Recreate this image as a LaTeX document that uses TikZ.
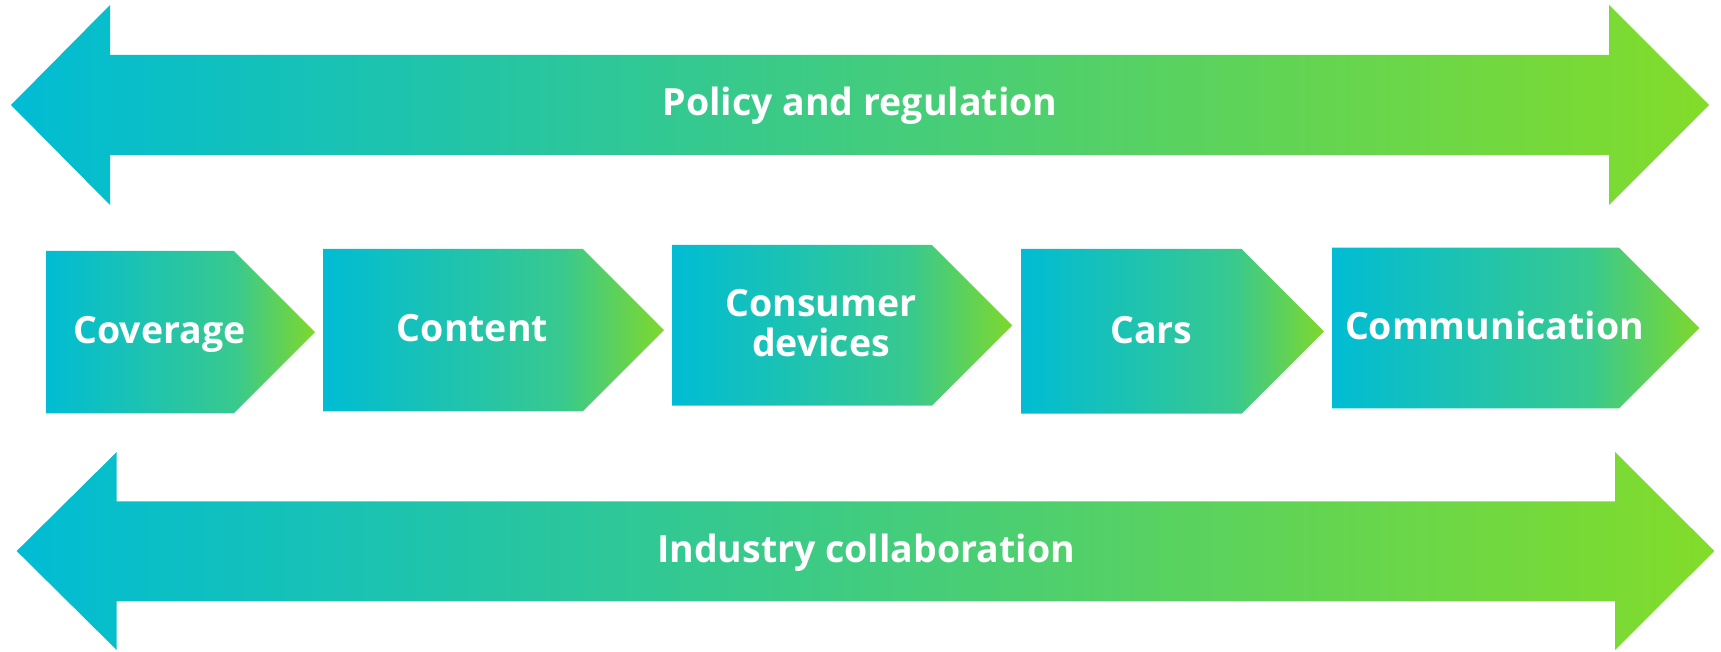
\documentclass[tikz,border=0pt]{standalone}
\usepackage{fontspec}
\setmainfont{Open Sans}[BoldFont={* Bold}]
\definecolor{cyanA}{RGB}{0,188,212}
\definecolor{limeA}{RGB}{130,220,42}
\definecolor{chevMid}{RGB}{56,201,143}
\definecolor{chevEnd}{RGB}{126,216,44}
\pgfdeclarehorizontalshading{chevshade}{100bp}{color(0bp)=(cyanA); color(25bp)=(cyanA); color(60bp)=(chevMid); color(75bp)=(chevEnd); color(100bp)=(chevEnd)}
\tikzset{
  bigarrow/.style={left color=cyanA, right color=limeA, draw=none},
  chev/.style={shading=chevshade, draw=none},
  lbl/.style={text=white, font=\bfseries\fontsize{37.5}{40}\selectfont, inner sep=0pt, anchor=base, align=center},
}
\begin{document}
\begin{tikzpicture}[x=1pt,y=-1pt]
\useasboundingbox (0,0) rectangle (1721,652);
% top double arrow
\shade[bigarrow] (11,105) -- (110,5) -- (110,55) -- (1609,55) -- (1609,5) -- (1709,105)
  -- (1609,205) -- (1609,155) -- (110,155) -- (110,205) -- cycle;
\node[lbl] (policy) at (860,116) {Policy and regulation};
% bottom double arrow
\shade[bigarrow] (16.7,551) -- (116.7,452) -- (116.7,501.3) -- (1615,501.3) -- (1615,452) -- (1714.3,551)
  -- (1615,650) -- (1615,601.3) -- (116.7,601.3) -- (116.7,650) -- cycle;
\node[lbl] (industry) at (866,562.3) {Industry collaboration};
% chevrons
\shade[chev] (46,251) -- (233.85,251) -- (315,332.15) -- (233.85,413.3) -- (46,413.3) -- cycle;
\node[lbl] (coverage) at (159.5,343.9) {Coverage};
\shade[chev] (323,249) -- (582.85,249) -- (664,330.15) -- (582.85,411.3) -- (323,411.3) -- cycle;
\node[lbl] (content) at (472.5,341.9) {Content};
\shade[chev] (672,245) -- (931.95,245) -- (1012.3,325.35) -- (931.95,405.7) -- (672,405.7) -- cycle;
\node[lbl] (consumer) at (821,356.7) {Consumer\\devices};
\shade[chev] (1021,249) -- (1241.65,249) -- (1324,331.35) -- (1241.65,413.7) -- (1021,413.7) -- cycle;
\node[lbl] (cars) at (1151.5,343) {Cars};
\shade[chev] (1332,247.7) -- (1619,247.7) -- (1699.3,328) -- (1619,408.3) -- (1332,408.3) -- cycle;
\node[lbl] (communication) at (1494.5,339.7) {Communication};
\end{tikzpicture}
\end{document}
